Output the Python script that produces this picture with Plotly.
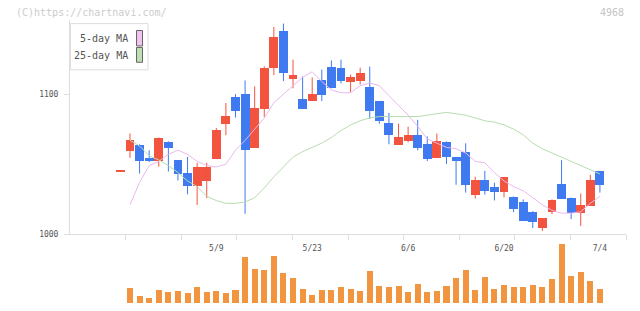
import plotly.graph_objects as go

# ---------------- data ----------------
dates = ["4/22", "4/23", "4/24", "4/25", "4/28", "4/30", "5/1", "5/2", "5/7", "5/8", "5/9",
         "5/12", "5/13", "5/14", "5/15", "5/16", "5/19", "5/20", "5/21", "5/22", "5/23",
         "5/26", "5/27", "5/28", "5/29", "5/30", "6/2", "6/3", "6/4", "6/5", "6/6",
         "6/9", "6/10", "6/11", "6/12", "6/13", "6/16", "6/17", "6/18", "6/19", "6/20",
         "6/23", "6/24", "6/25", "6/26", "6/27", "6/30", "7/1", "7/2", "7/3", "7/4"]

open_ = [1045.0, 1059.5, 1064.2, 1054.3, 1052.4, 1066.3, 1052.9, 1044.0, 1034.9, 1038.4, 1053.8,
         1079.1, 1097.9, 1100.0, 1061.6, 1089.7, 1119.2, 1145.7, 1111.2, 1096.5, 1095.1,
         1110.1, 1119.7, 1118.9, 1109.1, 1109.8, 1105.6, 1095.1, 1079.6, 1064.2, 1067.0,
         1071.2, 1064.9, 1054.3, 1066.3, 1055.0, 1059.2, 1028.3, 1038.9, 1033.9, 1030.4,
         1026.9, 1023.4, 1016.4, 1004.4, 1016.4, 1036.0, 1026.2, 1015.7, 1020.6, 1045.2]
high = [1045.0, 1071.9, 1064.2, 1059.9, 1069.1, 1066.3, 1052.9, 1055.2, 1051.0, 1051.0, 1075.9,
        1093.7, 1100.0, 1109.8, 1105.6, 1119.9, 1148.0, 1150.4, 1124.6, 1112.6, 1112.0,
        1117.6, 1124.1, 1124.6, 1114.0, 1118.9, 1119.7, 1095.1, 1086.6, 1078.9, 1076.8,
        1081.7, 1069.8, 1071.9, 1066.3, 1055.0, 1064.9, 1041.0, 1045.2, 1036.8, 1041.0,
        1026.9, 1024.8, 1016.4, 1011.5, 1024.8, 1052.9, 1026.2, 1029.0, 1042.4, 1045.2]
low = [1045.0, 1054.5, 1043.3, 1051.5, 1048.2, 1044.7, 1038.4, 1028.5, 1020.8, 1025.7, 1053.8,
       1070.7, 1083.3, 1014.5, 1061.6, 1083.6, 1113.6, 1109.3, 1104.2, 1089.5, 1095.1,
       1095.1, 1104.2, 1107.7, 1101.4, 1106.9, 1082.4, 1078.9, 1064.2, 1064.2, 1065.6,
       1059.9, 1052.2, 1054.3, 1050.1, 1035.3, 1029.7, 1025.5, 1028.3, 1024.1, 1026.2,
       1015.7, 1009.4, 1004.4, 1002.3, 1014.3, 1025.5, 1010.8, 1005.8, 1020.6, 1029.7]
close = [1045.0, 1067.7, 1052.4, 1052.4, 1069.1, 1061.6, 1043.3, 1034.9, 1048.0, 1048.0, 1074.7,
         1084.7, 1088.3, 1060.2, 1090.2, 1119.0, 1141.0, 1115.0, 1114.1, 1089.5, 1100.7,
         1099.5, 1104.9, 1109.8, 1112.6, 1115.5, 1088.0, 1081.0, 1071.2, 1069.8, 1071.2,
         1062.0, 1053.6, 1067.0, 1055.0, 1052.2, 1035.3, 1038.9, 1031.1, 1030.4, 1041.0,
         1018.5, 1009.4, 1008.6, 1011.5, 1024.8, 1025.5, 1015.7, 1021.3, 1038.9, 1035.3]

volume = [None, 30, 15, 11, 27, 23, 25, 21, 33, 23, 25,
          21, 27, 93, 69, 67, 95, 61, 51, 29, 17,
          27, 27, 33, 29, 25, 65, 35, 33, 35, 23,
          39, 23, 25, 35, 51, 67, 27, 53, 29, 37,
          33, 33, 37, 33, 49, 119, 55, 63, 45, 29]

ma5 = [None, 1021, 1037, 1049, 1052, 1057, 1060, 1057, 1052, 1049, 1048,
       1050, 1060, 1067, 1075, 1083, 1094, 1100, 1106, 1112, 1116,
       1109, 1103, 1101, 1101, 1106, 1108, 1106, 1099, 1092, 1085,
       1077, 1068, 1065, 1062, 1061, 1058, 1052, 1051, 1044, 1038,
       1034, 1031, 1026, 1021, 1017, 1015, 1015, 1016, 1022, 1027]
ma25 = [None, 1067, 1063, 1056, 1053, 1049, 1044, 1038, 1034, 1027, 1024,
        1022, 1022, 1023, 1026, 1033, 1041, 1048, 1055, 1059, 1062,
        1065, 1069, 1074, 1078, 1081, 1083, 1084, 1084, 1084, 1084,
        1084, 1085, 1086, 1087, 1086, 1085, 1083, 1081, 1080, 1078,
        1075, 1071, 1065, 1061, 1058, 1055, 1052, 1049, 1046, 1043]

label_dates = ["5/9", "5/23", "6/6", "6/20", "7/4"]
y_ticks = [1000, 1100]
legend_names = ["5-day MA", "25-day MA"]
code_text = "4968"
credit_text = "(C)https://chartnavi.com/"

# ---------------- styles ----------------
RED, BLUE, ORANGE = "#f2543f", "#3f7af0", "#f29540"
PINK, GREEN = "#eab8ee", "#b8dcae"
W, H = 640, 311
MONO = "DejaVu Sans Mono"

n = len(dates)
xs = list(range(-1, n - 1))  # first (flat) bar sits one step left of the first volume bar
x_of = dict(zip(dates, xs))

# layout in pixels -> paper fractions
PX_L, PX_R = 70, 626
X_MIN, X_MAX = -6.257, 51.72
def px(x): return x / W
def py(y): return (H - y) / H

up = [c >= o for o, c in zip(open_, close)]
colors = [RED if u else BLUE for u in up]
body_base = [min(o, c) for o, c in zip(open_, close)]
body_h = [max(abs(c - o), 0.8) for o, c in zip(open_, close)]

fig = go.Figure()

# wicks
for is_up, col in ((True, RED), (False, BLUE)):
    wx, wy = [], []
    for x, h, l, u in zip(xs, high, low, up):
        if u == is_up and h > l:
            wx += [x, x, None]
            wy += [l, h, None]
    fig.add_trace(go.Scatter(x=wx, y=wy, mode="lines", line=dict(color=col, width=1),
                             hoverinfo="skip", showlegend=False, xaxis="x", yaxis="y"))

# bodies
fig.add_trace(go.Bar(x=xs, y=body_h, base=body_base, width=0.93,
                     marker=dict(color=colors, line=dict(width=0)),
                     showlegend=False, xaxis="x", yaxis="y"))

# moving averages
fig.add_trace(go.Scatter(x=xs, y=ma5, mode="lines", line=dict(color=PINK, width=1),
                         name=legend_names[0], showlegend=False, xaxis="x", yaxis="y"))
fig.add_trace(go.Scatter(x=xs, y=ma25, mode="lines", line=dict(color=GREEN, width=1),
                         name=legend_names[1], showlegend=False, xaxis="x", yaxis="y"))

# volume
fig.add_trace(go.Bar(x=xs, y=volume, width=0.63, marker=dict(color=ORANGE, line=dict(width=0)),
                     showlegend=False, xaxis="x2", yaxis="y2"))

x_dom = [px(PX_L), px(PX_R)]
tick_pos = [X_MIN + (X_MAX - X_MIN) * k / 10 for k in range(1, 11)]

fig.update_layout(
    width=W, height=H, margin=dict(l=0, r=0, t=0, b=0),
    paper_bgcolor="white", plot_bgcolor="white",
    bargap=0, barmode="overlay",
    xaxis=dict(domain=x_dom, range=[X_MIN, X_MAX], anchor="y",
               showline=True, linecolor="#dedede", linewidth=1,
               tickmode="array", tickvals=tick_pos, ticks="outside", ticklen=5,
               tickcolor="#dedede", showticklabels=False, showgrid=False, zeroline=False),
    yaxis=dict(domain=[py(238), py(20)], range=[1000, 1153.2], anchor="x",
               showline=True, linecolor="#dedede", linewidth=1,
               tickmode="array", tickvals=y_ticks, ticks="outside", ticklen=5,
               tickcolor="#dedede", ticklabelstandoff=4,
               tickfont=dict(family=MONO, size=8, color="#555"),
               showgrid=False, zeroline=False),
    xaxis2=dict(domain=x_dom, range=[X_MIN, X_MAX], anchor="free", position=py(246),
                matches="x", showline=False, ticks="",
                tickmode="array", tickvals=[x_of[d] for d in label_dates], ticktext=label_dates,
                tickfont=dict(family=MONO, size=8, color="#555"),
                showgrid=False, zeroline=False),
    yaxis2=dict(domain=[py(308), py(245)], range=[0, 126], anchor="x2",
                visible=False, showgrid=False, zeroline=False),
    showlegend=False,
)

# credit + code
fig.add_annotation(text=credit_text, x=px(14), y=py(12.5), xref="paper", yref="paper",
                   xanchor="left", yanchor="middle", showarrow=False,
                   font=dict(family=MONO, size=10, color="#cccccc"))
fig.add_annotation(text=code_text, x=px(626), y=py(12.5), xref="paper", yref="paper",
                   xanchor="right", yanchor="middle", showarrow=False,
                   font=dict(family=MONO, size=10, color="#c4c4c4"))

# legend box (custom, swatch on the right)
fig.add_shape(type="rect", xref="paper", yref="paper", x0=px(70.5), x1=px(148), y0=py(71), y1=py(24),
              line=dict(color="#dddddd", width=1), fillcolor="white", layer="above")
for name, col, yc, (y0, y1) in ((legend_names[0], "#f0c4f0", 39, (31, 46.7)),
                                (legend_names[1], "#bde0b2", 56.5, (48.3, 63.3))):
    fig.add_annotation(text=name, x=px(130), y=py(yc), xref="paper", yref="paper",
                       xanchor="right", yanchor="middle", showarrow=False,
                       font=dict(family=MONO, size=10, color="#555"))
    fig.add_shape(type="rect", xref="paper", yref="paper", x0=px(136.5), x1=px(142.5),
                  y0=py(y1), y1=py(y0), line=dict(color="#666", width=1), fillcolor=col,
                  layer="above")

fig.write_html("out.html", config={"displayModeBar": False},
               post_script="document.body.style.margin='0';document.body.style.overflow='hidden';")
